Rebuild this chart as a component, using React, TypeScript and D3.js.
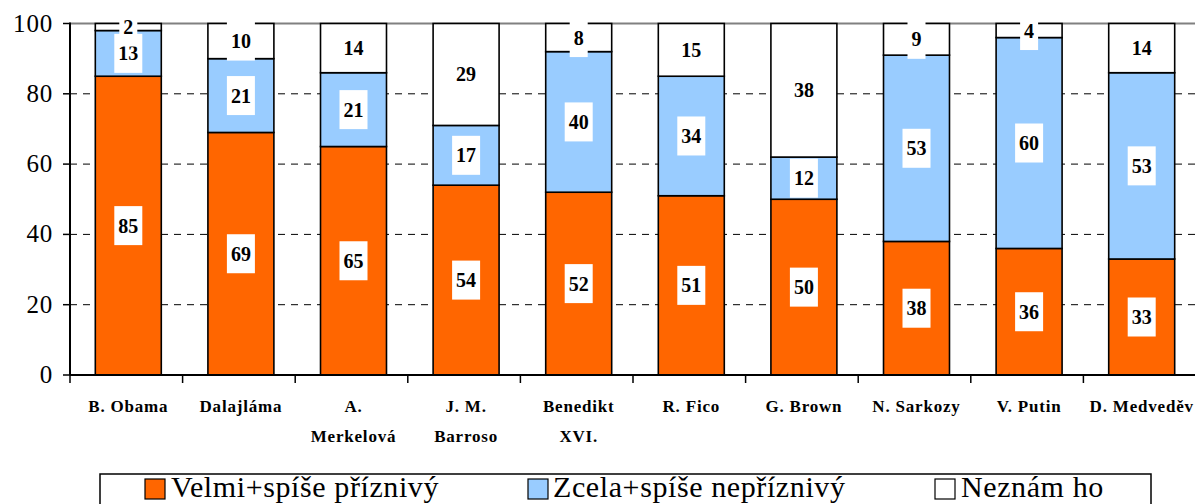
import React from "react";
import * as d3 from "d3";

const categories = ["B. Obama", "Dalajláma", "A. Merkelová", "J. M. Barroso", "Benedikt XVI.", "R. Fico", "G. Brown", "N. Sarkozy", "V. Putin", "D. Medveděv"];
const categoryLines = [["B. Obama"], ["Dalajláma"], ["A.", "Merkelová"], ["J. M.", "Barroso"], ["Benedikt", "XVI."], ["R. Fico"], ["G. Brown"], ["N. Sarkozy"], ["V. Putin"], ["D. Medveděv"]];
const favorable = [85, 69, 65, 54, 52, 51, 50, 38, 36, 33];
const unfavorable = [13, 21, 21, 17, 40, 34, 12, 53, 60, 53];
const unknown = [2, 10, 14, 29, 8, 15, 38, 9, 4, 14];
const seriesNames = ["Velmi+spíše příznivý", "Zcela+spíše nepříznivý", "Neznám ho"];
const seriesKeys = ["fav", "unfav", "unk"];
const seriesColors = ["#FF6600", "#99CCFF", "#FFFFFF"];
const yTicks = [0, 20, 40, 60, 80, 100];
const gridTicks = [20, 40, 60, 80];

const W = 1195;
const H = 504;
const FONT = '"Liberation Serif", "Times New Roman", Times, serif';

export default function App() {
  const left = 70;
  const right = 1196;
  const top = 23.5;
  const bottom = 375;

  const x = d3.scaleBand<string>().domain(categories).range([left, right]).paddingInner(0.414).paddingOuter(0.207);
  const y = d3.scaleLinear().domain([0, 100]).range([bottom, top]);
  const step = x.step();

  const table = categories.map((c, i) => ({ cat: c, fav: favorable[i], unfav: unfavorable[i], unk: unknown[i] }));
  const stacked = d3.stack<any>().keys(seriesKeys)(table);

  const legendItems = [
    { swatchX: 145, textX: 171 },
    { swatchX: 528, textX: 553 },
    { swatchX: 935, textX: 961 },
  ];

  return (
    <svg width={W} height={H} style={{ position: "absolute", left: 0, top: 0, background: "#fff", fontFamily: FONT }}>
      {gridTicks.map((t) => (
        <line key={"g" + t} x1={left} x2={W} y1={y(t)} y2={y(t)} stroke="#000" strokeWidth={1} strokeDasharray="7,6" />
      ))}
      <line x1={left} x2={W} y1={y(100)} y2={y(100)} stroke="#808080" strokeWidth={2} />

      {stacked.map((s, si) => (
        <g key={s.key}>
          {s.map((d, i) => (
            <rect
              key={i}
              x={(x(categories[i]) as number) + 2}
              width={x.bandwidth()}
              y={y(d[1])}
              height={y(d[0]) - y(d[1])}
              fill={seriesColors[si]}
              stroke="#000"
              strokeWidth={1.6}
            />
          ))}
        </g>
      ))}

      {stacked.map((s, si) => (
        <g key={"l" + s.key}>
          {s.map((d, i) => {
            const v = d[1] - d[0];
            const txt = String(v);
            const cx = (x(categories[i]) as number) + 2 + x.bandwidth() / 2;
            const cy = y((d[0] + d[1]) / 2);
            const bw = txt.length * 10 + 8;
            const bh = 39;
            return (
              <g key={i}>
                <rect x={cx - bw / 2} y={cy - bh / 2} width={bw} height={bh} fill="#fff" />
                <text x={cx} y={cy + 7} textAnchor="middle" fontSize={20} fontWeight="bold" style={{ fontFamily: FONT }}>
                  {txt}
                </text>
              </g>
            );
          })}
        </g>
      ))}

      <line x1={left} x2={left} y1={top - 1} y2={bottom} stroke="#000" strokeWidth={2} />
      {yTicks.map((t) => (
        <g key={"y" + t}>
          <line x1={left - 7} x2={left} y1={y(t)} y2={y(t)} stroke="#000" strokeWidth={1.5} />
          <text x={53} y={y(t) + 8} textAnchor="end" fontSize={25} letterSpacing={0.8} style={{ fontFamily: FONT }}>
            {t}
          </text>
        </g>
      ))}

      <line x1={left} x2={W} y1={bottom} y2={bottom} stroke="#000" strokeWidth={2} />
      {d3.range(categories.length + 1).map((k) => (
        <line key={"xt" + k} x1={left + k * step} x2={left + k * step} y1={bottom} y2={bottom + 8} stroke="#000" strokeWidth={1.5} />
      ))}
      {categoryLines.map((lines, i) => (
        <text key={"c" + i} textAnchor="middle" fontSize={17} fontWeight="bold" letterSpacing={0.8} style={{ fontFamily: FONT }}>
          {lines.map((ln, j) => (
            <tspan key={j} x={(x(categories[i]) as number) + 2 + x.bandwidth() / 2} y={412 + j * 30}>
              {ln}
            </tspan>
          ))}
        </text>
      ))}

      <rect x={100} y={474} width={1051} height={50} fill="#fff" stroke="#000" strokeWidth={1.5} />
      {legendItems.map((it, i) => (
        <g key={"lg" + i}>
          <rect x={it.swatchX} y={479} width={20} height={20} fill={seriesColors[i]} stroke="#000" strokeWidth={1.2} />
          <text x={it.textX} y={497} fontSize={30} letterSpacing={0.6} style={{ fontFamily: FONT }}>
            {seriesNames[i]}
          </text>
        </g>
      ))}
    </svg>
  );
}
